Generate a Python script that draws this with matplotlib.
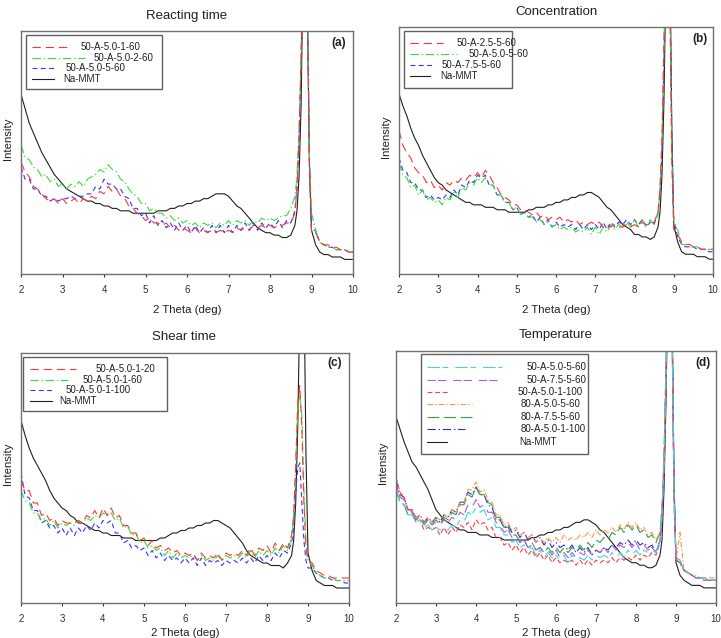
import matplotlib
matplotlib.use('Agg')
import matplotlib.pyplot as plt
from matplotlib.lines import Line2D
from matplotlib.patches import Rectangle

plt.rcParams['font.family'] = ['Liberation Sans', 'DejaVu Sans']
plt.rcParams['lines.scale_dashes'] = False

# ---------------- data (2 theta grid, relative intensity) ----------------
theta = [2.0, 2.1, 2.2, 2.3, 2.4, 2.5, 2.6, 2.7, 2.8, 2.9,
         3.0, 3.1, 3.2, 3.3, 3.4, 3.5, 3.6, 3.7, 3.8, 3.9,
         4.0, 4.1, 4.2, 4.3, 4.4, 4.5, 4.6, 4.7, 4.8, 4.9,
         5.0, 5.1, 5.2, 5.3, 5.4, 5.5, 5.6, 5.7, 5.8, 5.9,
         6.0, 6.1, 6.2, 6.3, 6.4, 6.5, 6.6, 6.7, 6.8, 6.9,
         7.0, 7.1, 7.2, 7.3, 7.4, 7.5, 7.6, 7.7, 7.8, 7.9,
         8.0, 8.1, 8.2, 8.3, 8.4, 8.5, 8.6,
         8.65, 8.7, 8.75, 8.8, 8.85, 8.9, 8.95, 9.0,
         9.1, 9.2, 9.3, 9.4, 9.5, 9.6, 9.7, 9.8, 9.9, 10.0]

# (a) Reacting time
a_mmt = [74, 68, 62, 58, 54, 50, 47, 44, 41, 39,
         37, 35, 34, 33, 32, 31, 30, 30, 29, 29,
         28, 28, 27, 27, 26, 26, 26, 25, 25, 25,
         25, 25, 25, 26, 26, 26, 27, 27, 28, 28,
         29, 29, 30, 30, 31, 31, 32, 33, 33, 33,
         32, 30, 28, 27, 25, 23, 21, 19, 18, 17,
         17, 16, 16, 15, 15, 16, 20,
         26, 40, 70, 130, 150, 110, 45, 18,
         12, 9, 8, 8, 7, 7, 7, 6, 6, 6]
a_1_60 = [46, 42, 40, 36, 35, 33, 31, 30, 31, 29,
          31, 29, 30, 31, 29, 31, 30, 32, 31, 34,
          33, 36, 34, 35, 32, 31, 28, 27, 25, 24,
          22, 23, 21, 21, 20, 21, 19, 20, 18, 19,
          18, 17, 19, 17, 18, 17, 18, 17, 18, 17,
          18, 17, 19, 18, 19, 18, 20, 19, 20, 19,
          20, 19, 20, 20, 21, 21, 25,
          35, 55, 90, 140, 150, 115, 45, 17,
          17, 13, 12, 12, 11, 11, 10, 10, 9, 9]
a_2_60 = [53, 48, 47, 44, 43, 40, 41, 38, 39, 36,
          37, 35, 37, 36, 38, 36, 39, 40, 41, 43,
          42, 45, 43, 42, 39, 38, 35, 33, 32, 29,
          29, 26, 27, 25, 25, 23, 24, 22, 23, 21,
          22, 20, 21, 19, 21, 20, 21, 19, 21, 20,
          22, 20, 22, 21, 22, 20, 22, 21, 23, 22,
          23, 22, 23, 24, 24, 27, 32,
          40, 60, 90, 140, 150, 120, 50, 25,
          18, 13, 12, 11, 11, 10, 10, 10, 9, 9]
a_5_60 = [44, 39, 39, 35, 35, 32, 32, 30, 31, 30,
          31, 31, 32, 31, 32, 32, 33, 33, 36, 35,
          39, 37, 37, 35, 35, 32, 31, 27, 27, 24,
          25, 21, 24, 20, 22, 19, 21, 18, 21, 18,
          20, 17, 20, 17, 19, 17, 20, 17, 20, 17,
          20, 17, 20, 18, 21, 18, 21, 18, 21, 19,
          21, 19, 22, 19, 22, 21, 26,
          36, 56, 88, 135, 150, 115, 45, 18,
          18, 13, 12, 11, 11, 10, 10, 10, 9, 9]

# (b) Concentration
b_mmt = [73, 68, 64, 59, 55, 52, 48, 45, 42, 39,
         37, 36, 34, 33, 32, 31, 30, 29, 29, 28,
         28, 28, 27, 27, 27, 26, 26, 26, 25, 25,
         25, 25, 25, 26, 26, 27, 27, 27, 28, 28,
         29, 29, 30, 30, 31, 31, 32, 32, 33, 33,
         32, 31, 29, 27, 26, 24, 22, 20, 19, 18,
         16, 16, 15, 15, 14, 15, 19,
         25, 40, 70, 120, 150, 130, 60, 20,
         13, 9, 8, 8, 8, 7, 7, 7, 6, 6]
b_25 = [58, 52, 49, 47, 43, 41, 40, 37, 38, 35,
        36, 34, 37, 36, 38, 37, 39, 38, 40, 39,
        41, 39, 42, 40, 37, 35, 32, 31, 30, 28,
        28, 26, 26, 25, 24, 25, 23, 24, 22, 23,
        22, 23, 21, 22, 21, 22, 20, 21, 20, 21,
        20, 21, 19, 20, 19, 20, 19, 19, 20, 19,
        20, 19, 21, 20, 20, 21, 25,
        35, 55, 95, 140, 150, 110, 45, 18,
        16, 13, 12, 12, 11, 11, 10, 10, 10, 10]
b_50 = [45, 40, 39, 35, 36, 32, 34, 30, 31, 29,
        30, 28, 31, 30, 33, 31, 35, 34, 37, 36,
        39, 37, 39, 36, 36, 32, 32, 29, 29, 26,
        27, 24, 25, 23, 23, 21, 22, 20, 21, 19,
        20, 18, 19, 18, 19, 17, 18, 17, 19, 16,
        19, 16, 19, 17, 20, 18, 20, 19, 21, 19,
        22, 19, 22, 19, 22, 20, 24,
        34, 54, 90, 135, 150, 120, 50, 20,
        18, 12, 12, 11, 11, 11, 10, 10, 10, 10]
b_75 = [47, 42, 41, 37, 37, 34, 34, 31, 32, 30,
        31, 30, 32, 31, 34, 32, 36, 35, 38, 37,
        40, 39, 40, 36, 36, 32, 32, 29, 29, 26,
        27, 24, 25, 23, 24, 21, 23, 20, 22, 19,
        21, 19, 20, 19, 20, 18, 20, 18, 20, 18,
        20, 18, 21, 18, 21, 19, 21, 20, 22, 20,
        22, 20, 22, 19, 21, 20, 25,
        33, 50, 85, 130, 150, 125, 55, 22,
        15, 12, 11, 11, 11, 10, 10, 10, 9, 9]

# (c) Shear time
c_mmt = [73, 67, 62, 58, 55, 52, 49, 45, 42, 40,
         38, 37, 35, 34, 32, 32, 31, 30, 29, 29,
         28, 28, 27, 27, 27, 26, 26, 26, 25, 25,
         25, 25, 25, 25, 26, 26, 27, 28, 28, 29,
         29, 30, 30, 31, 31, 32, 32, 33, 33, 32,
         31, 30, 28, 26, 24, 21, 19, 18, 17, 16,
         16, 15, 15, 15, 14, 16, 19,
         25, 40, 70, 120, 150, 130, 60, 20,
         13, 9, 8, 7, 7, 7, 6, 6, 6, 6]
c_1_20 = [49, 45, 45, 40, 40, 35, 36, 33, 34, 31,
          33, 32, 32, 32, 33, 32, 35, 34, 37, 34,
          38, 35, 38, 34, 35, 31, 31, 28, 28, 25,
          26, 23, 25, 22, 23, 21, 22, 20, 21, 19,
          20, 19, 20, 17, 20, 18, 19, 18, 20, 17,
          20, 19, 20, 19, 21, 19, 22, 19, 22, 21,
          23, 20, 24, 21, 24, 22, 27,
          35, 55, 80, 87, 70, 40, 22, 17,
          16, 13, 12, 11, 11, 10, 10, 10, 10, 10]
c_1_60 = [45, 41, 40, 36, 36, 33, 34, 31, 33, 30,
          32, 31, 32, 31, 33, 32, 34, 33, 35, 34,
          36, 35, 36, 33, 34, 30, 31, 27, 28, 24,
          25, 22, 23, 21, 22, 19, 21, 18, 20, 18,
          19, 18, 19, 17, 19, 17, 18, 17, 19, 17,
          19, 18, 19, 18, 20, 18, 21, 18, 21, 19,
          21, 19, 22, 20, 23, 21, 26,
          35, 55, 78, 83, 75, 45, 24, 17,
          15, 12, 11, 10, 10, 10, 9, 9, 9, 9]
c_1_100 = [52, 43, 42, 37, 37, 32, 33, 30, 31, 28,
           30, 27, 30, 27, 30, 28, 31, 29, 32, 30,
           33, 32, 33, 28, 28, 24, 25, 22, 23, 21,
           22, 19, 21, 18, 20, 17, 19, 17, 18, 16,
           18, 16, 18, 15, 18, 15, 17, 16, 17, 15,
           17, 16, 17, 16, 18, 16, 18, 16, 19, 17,
           19, 17, 20, 18, 21, 20, 24,
           30, 45, 54, 56, 40, 25, 17, 14,
           14, 12, 11, 10, 10, 9, 9, 9, 8, 8]

# (d) Temperature
d_mmt = [74, 69, 64, 60, 56, 54, 51, 48, 45, 41,
         37, 35, 33, 32, 31, 30, 29, 29, 28, 28,
         28, 27, 27, 27, 26, 26, 26, 25, 25, 25,
         25, 25, 25, 25, 26, 26, 27, 27, 28, 28,
         29, 29, 30, 30, 31, 32, 32, 33, 33, 32,
         31, 29, 28, 26, 24, 22, 20, 18, 17, 16,
         16, 15, 15, 14, 14, 15, 19,
         25, 45, 80, 130, 150, 120, 50, 16,
         11, 9, 8, 7, 7, 7, 6, 6, 6, 6]
d_50_50_5_60 = [45, 40, 39, 35, 35, 32, 33, 30, 31, 29,
                30, 29, 30, 29, 31, 30, 33, 32, 36, 35,
                38, 36, 37, 33, 34, 30, 30, 27, 27, 24,
                25, 22, 23, 21, 22, 19, 21, 18, 20, 18,
                19, 17, 19, 16, 19, 17, 18, 17, 19, 17,
                19, 18, 19, 18, 20, 18, 20, 18, 21, 19,
                21, 19, 21, 20, 21, 20, 25,
                35, 55, 90, 140, 150, 115, 45, 18,
                17, 13, 12, 11, 10, 10, 10, 9, 9, 9]
d_50_75_5_60 = [47, 42, 41, 37, 37, 34, 35, 32, 33, 31,
                32, 31, 33, 32, 34, 33, 36, 35, 39, 38,
                41, 38, 39, 36, 36, 32, 31, 28, 29, 26,
                27, 24, 25, 22, 24, 21, 22, 20, 21, 19,
                21, 18, 20, 18, 20, 18, 20, 19, 21, 19,
                21, 20, 22, 20, 23, 21, 23, 22, 24, 22,
                24, 21, 23, 21, 22, 20, 25,
                35, 55, 90, 140, 150, 115, 45, 18,
                17, 13, 12, 11, 10, 10, 10, 9, 9, 9]
d_50_50_1_100 = [50, 44, 42, 37, 36, 32, 33, 29, 30, 29,
                 30, 27, 30, 27, 30, 28, 31, 30, 32, 29,
                 33, 31, 32, 29, 30, 26, 26, 23, 24, 21,
                 23, 20, 22, 19, 21, 18, 20, 17, 19, 16,
                 18, 16, 17, 16, 17, 15, 17, 15, 17, 15,
                 17, 16, 17, 16, 18, 16, 18, 17, 18, 17,
                 19, 17, 19, 18, 20, 19, 24,
                 34, 50, 85, 130, 150, 110, 45, 17,
                 16, 13, 12, 11, 10, 10, 9, 9, 9, 9]
d_80_50_5_60 = [47, 42, 41, 37, 37, 33, 35, 32, 34, 32,
                34, 33, 35, 34, 37, 36, 40, 40, 45, 45,
                48, 44, 45, 41, 40, 35, 35, 31, 32, 29,
                30, 27, 28, 26, 27, 24, 26, 24, 26, 24,
                26, 24, 27, 25, 26, 25, 27, 26, 28, 26,
                29, 27, 29, 28, 30, 28, 31, 29, 32, 30,
                32, 29, 30, 27, 28, 25, 28,
                38, 58, 95, 140, 150, 110, 40, 17,
                28, 13, 12, 11, 11, 10, 10, 10, 10, 10]
d_80_75_5_60 = [45, 40, 39, 35, 36, 33, 34, 31, 33, 31,
                33, 31, 34, 33, 36, 35, 39, 39, 43, 42,
                46, 43, 43, 40, 39, 34, 34, 30, 30, 27,
                27, 24, 25, 22, 23, 21, 22, 20, 22, 20,
                22, 20, 22, 20, 22, 21, 23, 21, 24, 22,
                25, 24, 26, 25, 28, 27, 30, 28, 31, 29,
                31, 28, 29, 26, 27, 24, 28,
                38, 58, 95, 140, 150, 110, 40, 17,
                16, 13, 12, 11, 10, 10, 10, 9, 9, 9]
d_80_50_1_100 = [49, 43, 42, 37, 37, 33, 35, 32, 34, 32,
                 34, 32, 35, 34, 37, 36, 40, 40, 44, 43,
                 46, 43, 43, 39, 38, 33, 33, 30, 31, 28,
                 29, 26, 28, 25, 27, 24, 26, 23, 25, 22,
                 24, 22, 23, 21, 23, 20, 22, 20, 22, 19,
                 21, 20, 22, 21, 23, 22, 24, 23, 25, 23,
                 25, 23, 24, 22, 23, 20, 25,
                 35, 55, 90, 140, 150, 115, 45, 17,
                 16, 13, 12, 11, 10, 10, 10, 9, 9, 9]

x_ticks = [2, 3, 4, 5, 6, 7, 8, 9, 10]

# ---------------- styles ----------------
RED = '#ff3535'
GREEN = '#35e035'
BLUE = '#3535ff'
BLACK = '#202020'
ls_red = (0, (6, 3.5))
ls_green = (0, (6, 2, 1, 2))
ls_blue = (0, (3.5, 2.5))
ls_solid = '-'

panels = [
    dict(title='Reacting time', tag='(a)',
         series=[(a_1_60, '50-A-5.0-1-60', RED, ls_red),
                 (a_2_60, '50-A-5.0-2-60', GREEN, ls_green),
                 (a_5_60, '50-A-5.0-5-60', BLUE, ls_blue),
                 (a_mmt, 'Na-MMT', BLACK, ls_solid)]),
    dict(title='Concentration', tag='(b)',
         series=[(b_25, '50-A-2.5-5-60', RED, ls_red),
                 (b_50, '50-A-5.0-5-60', GREEN, ls_green),
                 (b_75, '50-A-7.5-5-60', BLUE, ls_blue),
                 (b_mmt, 'Na-MMT', BLACK, ls_solid)]),
    dict(title='Shear time', tag='(c)',
         series=[(c_1_20, '50-A-5.0-1-20', RED, ls_red),
                 (c_1_60, '50-A-5.0-1-60', GREEN, ls_green),
                 (c_1_100, '50-A-5.0-1-100', BLUE, ls_blue),
                 (c_mmt, 'Na-MMT', BLACK, ls_solid)]),
    dict(title='Temperature', tag='(d)',
         series=[(d_50_50_5_60, '50-A-5.0-5-60', '#40d4e4', (0, (9, 2, 4, 5))),
                 (d_50_75_5_60, '50-A-7.5-5-60', '#a860d8', (0, (6, 1.5, 6, 5))),
                 (d_50_50_1_100, '50-A-5.0-1-100', '#ff4040', (0, (3.5, 2))),
                 (d_80_50_5_60, '80-A-5.0-5-60', '#ff9448', (0, (4, 1.5, 1, 1.5))),
                 (d_80_75_5_60, '80-A-7.5-5-60', '#30a048', (0, (8.5, 3.5))),
                 (d_80_50_1_100, '80-A-5.0-1-100', '#3030c8', (0, (6, 2, 1, 2))),
                 (d_mmt, 'Na-MMT', BLACK, ls_solid)]),
]

# layout (figure pixels)
W, H = 721, 638
axes_px = [(21, 31, 353, 274), (399, 27, 713, 274),
           (21, 353, 349, 603), (396, 351, 716, 603)]
xlabel_pad = [7, 7, 2.5, 2.5]
title_px = [(187, 16), (557, 12), (184, 337), (556, 335)]
tag_px = [(339, 43), (700, 39), (335, 363), (703, 363)]
legend_frame_px = [(26, 35, 162, 89), (404, 31, 512, 88),
                   (23, 357, 167, 411), (421, 354, 588, 454)]
legend_rows_px = [
    [(47, 68, 81), (58, 85, 94), (68, 57, 66), (79, 54, 63)],
    [(43, 443, 457), (54, 457, 469), (65, 433, 442), (76, 430, 440)],
    [(369, 76, 96), (380, 68, 83), (390, 54, 66), (401, 52, 59)],
    [(367, 502, 527), (380, 502, 527), (392, 450, 518), (404, 472, 521),
     (417, 472, 521), (429, 465, 521), (442, 447, 519)],
]
legend_x0_px = [32, 410, 30, 427]

fig = plt.figure(figsize=(W / 100, H / 100), dpi=100)
fx = lambda x: x / W
fy = lambda y: 1 - y / H

for p, (l, t, r, b), xlp, (tx, ty), (gx, gy), frame, rows, lx0 in zip(
        panels, axes_px, xlabel_pad, title_px, tag_px, legend_frame_px,
        legend_rows_px, legend_x0_px):
    ax = fig.add_axes([fx(l), fy(b), fx(r) - fx(l), fy(t) - fy(b)])
    for ys, lab, col, ls in p['series'][::-1]:
        ax.plot(theta, ys, color=col, linestyle=ls, linewidth=0.8, label=lab)
    ax.set_xlim(2, 10)
    ax.set_ylim(0, 100)
    ax.set_xticks(x_ticks)
    ax.set_yticks([])
    ax.tick_params(axis='x', direction='out', length=2.5, width=0.8,
                   labelsize=7, pad=5.5, colors='#303030')
    for s in ax.spines.values():
        s.set_color('#707070')
        s.set_linewidth(1.0)
    ax.set_xlabel('2 Theta (deg)', fontsize=8.2, labelpad=xlp, color='#202020')
    ax.set_ylabel('Intensity', fontsize=8.2, color='#202020')
    ax.yaxis.set_label_coords(-0.025, 0.555)
    fig.text(fx(tx), fy(ty), p['title'], fontsize=9.5, ha='center', va='center',
             color='#202020')
    fig.text(fx(gx), fy(gy), p['tag'], fontsize=8.5, fontweight='bold',
             ha='center', va='center', color='#202020')
    # legend
    x1, y1, x2, y2 = frame
    fig.add_artist(Rectangle((fx(x1), fy(y2)), fx(x2) - fx(x1), fy(y1) - fy(y2),
                             transform=fig.transFigure, facecolor='white',
                             edgecolor='#606060', linewidth=1.0, zorder=3))
    for (ys, lab, col, ls), (ry, hx_end, txt_x) in zip(p['series'], rows):
        fig.add_artist(Line2D([fx(lx0), fx(hx_end)], [fy(ry), fy(ry)],
                              transform=fig.transFigure, color=col, linestyle=ls,
                              linewidth=0.8, zorder=4))
        fig.text(fx(txt_x), fy(ry), lab, fontsize=7, ha='left', va='center',
                 color='#202020', zorder=4)

fig.savefig('out.png', dpi=100)
